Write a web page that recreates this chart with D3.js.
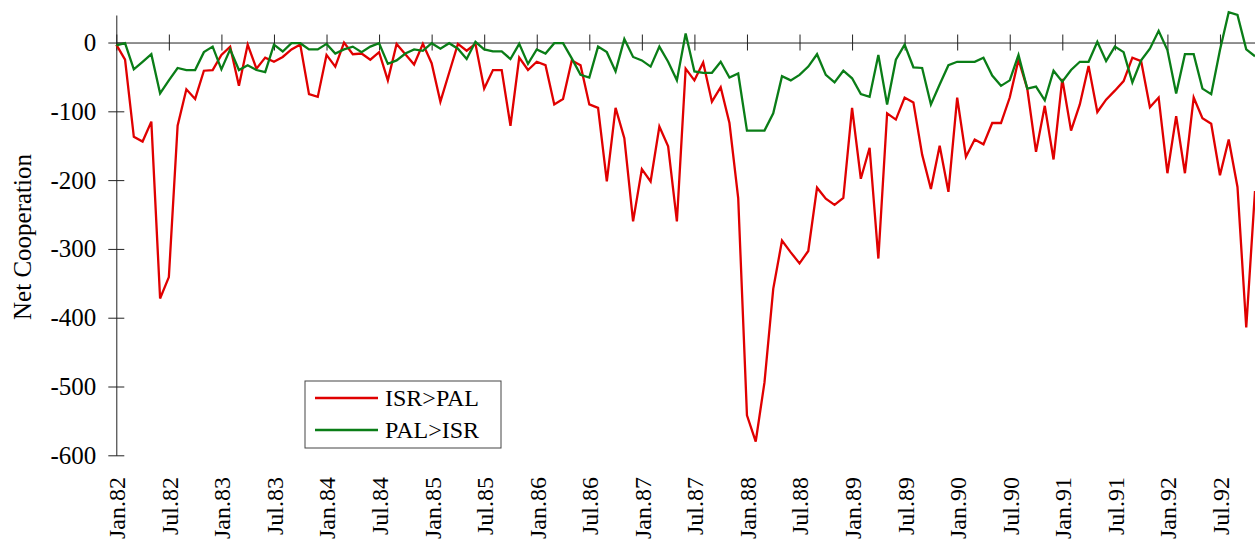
<!DOCTYPE html>
<html>
<head>
<meta charset="utf-8">
<script src="https://cdn.jsdelivr.net/npm/d3@7"></script>
<style>
  html, body { margin: 0; padding: 0; background: #fff; }
  svg { display: block; }
  svg text { font-family: "Liberation Serif", "Times New Roman", serif; fill: #000; }
</style>
</head>
<body>
<svg id="chart" width="1255" height="540"></svg>
<script>
// ---- data (monthly, Jan 1982 .. Nov 1992) ----
const monthNames = ["Jan","Feb","Mar","Apr","May","Jun","Jul","Aug","Sep","Oct","Nov","Dec"];
const months = [];
for (let yr = 82; yr <= 92; yr++) {
  for (let m = 0; m < 12; m++) {
    if (yr === 92 && m > 10) break;
    months.push(monthNames[m] + "." + yr);
  }
}
const isrToPal = [
  -3, -25, -137, -144, -115, -372, -341, -121, -68, -82, -41, -40,
  -18, -6, -63, -3, -38, -22, -28, -21, -10, -3, -75, -79,
  -18, -35, 0, -17, -16, -25, -14, -55, -2, -17, -32, -2,
  -30, -86, -44, -2, -12, -2, -67, -40, -40, -121, -22, -40,
  -28, -33, -90, -82, -26, -33, -90, -95, -202, -95, -139, -260,
  -184, -202, -122, -151, -260, -38, -55, -29, -86, -65, -117, -226,
  -542, -580, -494, -358, -288, -305, -321, -303, -211, -227, -236, -226,
  -95, -198, -153, -314, -103, -112, -80, -87, -163, -213, -150, -217,
  -80, -166, -141, -148, -117, -117, -80, -25, -67, -159, -92, -170,
  -53, -128, -90, -34, -101, -83, -70, -56, -22, -27, -94, -80,
  -190, -107, -190, -80, -110, -118, -193, -141, -210, -414, -216
];
const palToIsr = [
  -4, -1, -39, -28, -17, -74, -55, -37, -40, -40, -14, -6,
  -39, -10, -40, -33, -40, -43, -3, -13, -1, -1, -10, -10,
  -2, -16, -10, -6, -14, -6, -1, -31, -26, -16, -10, -12,
  -1, -9, -1, -9, -24, 1, -10, -13, -13, -24, -2, -31,
  -10, -16, -1, -1, -23, -47, -51, -6, -14, -42, 5, -21,
  -26, -35, -6, -28, -55, 13, -42, -44, -44, -28, -51, -45,
  -128, -128, -128, -103, -49, -55, -47, -35, -17, -47, -58, -41,
  -52, -75, -79, -18, -90, -25, -3, -36, -37, -90, -61, -33,
  -28, -28, -28, -22, -48, -63, -55, -18, -67, -64, -84, -41,
  -57, -40, -28, -28, 1, -27, -6, -14, -58, -26, -9, 17,
  -11, -74, -17, -17, -67, -75, -11, 44, 40, -10, -20
];
const tickLabels = ["Jan.82","Jul.82","Jan.83","Jul.83","Jan.84","Jul.84","Jan.85","Jul.85",
  "Jan.86","Jul.86","Jan.87","Jul.87","Jan.88","Jul.88","Jan.89","Jul.89","Jan.90","Jul.90",
  "Jan.91","Jul.91","Jan.92","Jul.92"];
const yTicks = [0, -100, -200, -300, -400, -500, -600];
const seriesNames = ["ISR>PAL", "PAL>ISR"];
const seriesColors = ["#e00000", "#0a7d17"];

// ---- scales ----
const svg = d3.select("#chart");
const x = d3.scalePoint().domain(months).range([116.3, 1255]).padding(0);
const y = d3.scaleLinear().domain([-600, 40]).range([455.3, 15]);
const FONT = 25;
const SERIF = "Liberation Serif, Times New Roman, serif";

// ---- y axis ----
const yAxis = d3.axisLeft(y).tickValues(yTicks).tickFormat(d => String(d))
  .tickSizeInner(8).tickSizeOuter(0).tickPadding(12);
const gy = svg.append("g").attr("transform", `translate(${x(months[0])},0)`).call(yAxis)
  .attr("font-family", SERIF).attr("font-size", FONT);
gy.select(".domain").attr("stroke", "#222");
gy.selectAll(".tick line").attr("x1", -8).attr("x2", 8).attr("stroke", "#222");

// ---- x axis (at y=0) ----
const y0 = y(0);
const xAxis = d3.axisBottom(x).tickValues(tickLabels).tickSizeInner(8).tickSizeOuter(0);
const gx = svg.append("g").attr("transform", `translate(0,${y0})`).call(xAxis)
  .attr("font-family", SERIF).attr("font-size", 24);
gx.select(".domain").attr("stroke", "#222");
gx.selectAll(".tick line").attr("y1", -8).attr("y2", 8).attr("stroke", "#222");
gx.selectAll(".tick text")
  .attr("text-anchor", "end")
  .attr("x", 0).attr("y", 0).attr("dy", "0.35em")
  .attr("transform", `translate(0,${477 - y0}) rotate(-90)`);

// ---- y title ----
svg.append("text")
  .attr("transform", "translate(22,237) rotate(-90)")
  .attr("text-anchor", "middle").attr("dy", "0.35em")
  .attr("font-family", SERIF).attr("font-size", FONT)
  .text("Net Cooperation");

// ---- lines ----
const line = d3.line().x((d, i) => x(months[i])).y(d => y(d));
[isrToPal, palToIsr].forEach((s, k) => {
  svg.append("path").datum(s)
    .attr("fill", "none").attr("stroke", seriesColors[k])
    .attr("stroke-width", 2.3).attr("stroke-linejoin", "miter")
    .attr("d", line);
});

// ---- legend ----
const lg = svg.append("g").attr("transform", "translate(305,381)");
lg.append("rect").attr("width", 196).attr("height", 67)
  .attr("fill", "#fff").attr("stroke", "#444").attr("stroke-width", 1);
seriesNames.forEach((name, k) => {
  const yy = 17 + k * 32;
  lg.append("line").attr("x1", 10).attr("x2", 73).attr("y1", yy).attr("y2", yy)
    .attr("stroke", seriesColors[k]).attr("stroke-width", 2.5);
  lg.append("text").attr("x", 80).attr("y", yy).attr("dy", "0.35em")
    .attr("font-family", SERIF).attr("font-size", 24).text(name);
});
</script>
</body>
</html>
